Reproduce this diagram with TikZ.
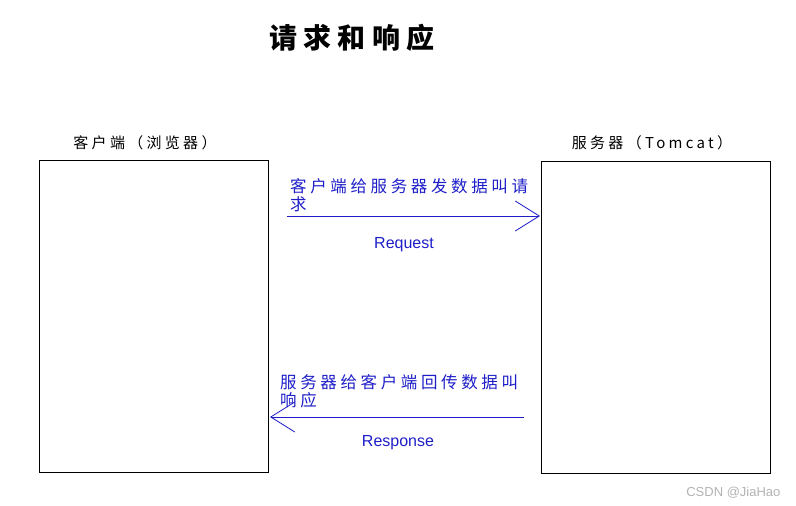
\documentclass[tikz,border=0pt]{standalone}
\usepackage{fontspec}
\newfontfamily\cjk{Noto Sans CJK SC}
\newfontfamily\cjksp{Noto Sans CJK SC}[LetterSpace=22]
\setmainfont{Liberation Sans}
\usetikzlibrary{arrows.meta}
\definecolor{lblue}{RGB}{30,30,200}
\tikzset{box/.style={draw,line width=0.8pt,anchor=north west,inner sep=0},
  lbl/.style={font=\cjksp\fontsize{15}{17}\selectfont,anchor=base},
  btxt/.style={text=lblue,font=\cjksp\fontsize{16.5}{18}\selectfont,anchor=base west,inner sep=0},
  arr/.style={draw=lblue,line width=0.8pt,-{Straight Barb[length=24pt,width=30pt]}}}
\begin{document}
\begin{tikzpicture}[x=1pt,y=-1pt]
\useasboundingbox (0,0) rectangle (796,506);
\node[font=\cjksp\bfseries\fontsize{28}{32}\selectfont] (title) at (352,38) {请求和响应};
\node[box,minimum width=229pt,minimum height=312pt] (cl) at (39,160) {};
\node[box,minimum width=229pt,minimum height=312pt] (sv) at (541,161) {};
\node[lbl] (cll) at (145,148) {客户端（浏览器）};
\node[lbl] (svl) at (652,148) {服务器（Tomcat）};
\coordinate (a1) at (287,216); \coordinate (a2) at (540,216);
\draw[arr] (a1) -- (a2);
\node[btxt] (t1) at (290,192) {客户端给服务器发数据叫请};
\node[btxt] (t1b) at (290,210) {求};
\node[text=lblue,font=\fontsize{16}{18}\selectfont] (req) at (404,245) {Request};
\coordinate (b1) at (524,417); \coordinate (b2) at (270,417);
\draw[arr] (b1) -- (b2);
\node[btxt] (t2) at (280,388) {服务器给客户端回传数据叫};
\node[btxt] (t2b) at (280,406) {响应};
\node[text=lblue,font=\fontsize{16}{18}\selectfont] (resp) at (398,443) {Response};
\node[text=gray!60,font=\fontsize{13}{15}\selectfont,anchor=base east] (wm) at (784,496) {CSDN @JiaHao};
\end{tikzpicture}
\end{document}
